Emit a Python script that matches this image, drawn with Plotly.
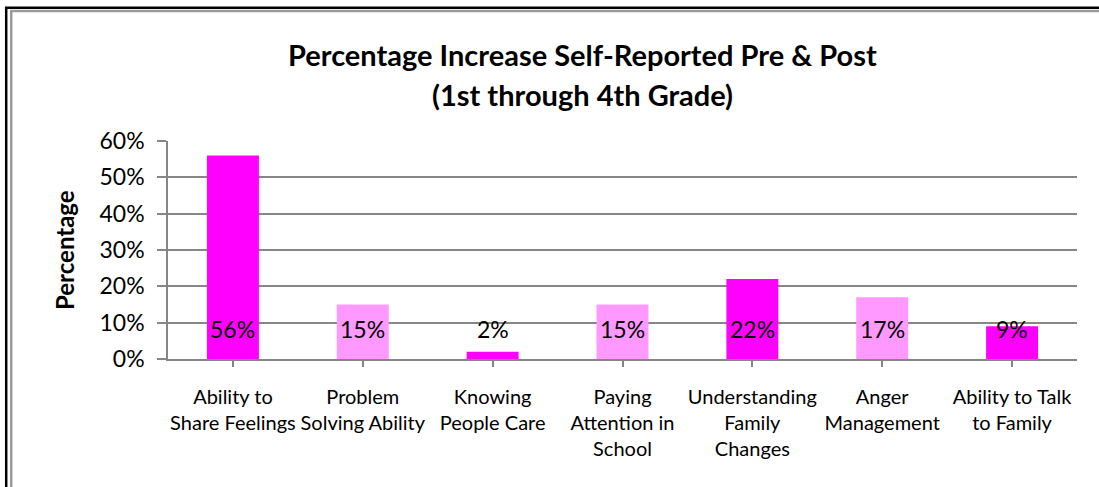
import plotly.graph_objects as go

categories = ["Ability to<br>Share Feelings", "Problem<br>Solving Ability", "Knowing<br>People Care",
              "Paying<br>Attention in<br>School", "Understanding<br>Family<br>Changes", "Anger<br>Management",
              "Ability to Talk<br>to Family"]
values = [0.56, 0.15, 0.02, 0.15, 0.22, 0.17, 0.09]
labels = ["56%", "15%", "2%", "15%", "22%", "17%", "9%"]
colors = ["#FF00FF", "#FF99FF", "#FF00FF", "#FF99FF", "#FF00FF", "#FF99FF", "#FF00FF"]
title_lines = ["Percentage Increase Self-Reported Pre &amp; Post", "(1st through 4th Grade)"]
y_title = "Percentage"

FONT = "Lato"
W, H = 1099, 487
L, R, T, B = 168, 22, 141, 128
pw, ph = W - L - R, H - T - B

def px(x):
    return (x - L) / pw

def py(y):
    return (H - B - y) / ph

fig = go.Figure()
fig.add_trace(go.Bar(x=list(range(len(values))), y=values, marker=dict(color=colors, line=dict(width=0)),
                     width=0.4, hoverinfo="skip"))

for i, (v, t) in enumerate(zip(values, labels)):
    fig.add_annotation(x=i, y=0, xref="x", yref="y", text=t, showarrow=False,
                       yanchor="bottom", yshift=14, font=dict(family=FONT, size=23, color="black"))

# title lines
for yc, t in zip([55, 94], title_lines):
    fig.add_annotation(x=px(582), y=py(yc), xref="paper", yref="paper", text="<b>" + t + "</b>",
                       showarrow=False, xanchor="center", yanchor="middle",
                       font=dict(family=FONT, size=29, color="black"))

# y axis title
fig.add_annotation(x=px(64), y=py(250), xref="paper", yref="paper", text="<b>" + y_title + "</b>",
                   showarrow=False, textangle=-90, xanchor="center", yanchor="middle",
                   font=dict(family=FONT, size=24, color="black"))

fig.update_layout(
    width=W, height=H,
    margin=dict(l=L, r=R, t=T, b=B),
    paper_bgcolor="white", plot_bgcolor="white",
    showlegend=False, bargap=0.6,
    font=dict(family=FONT, color="black"),
)

fig.update_xaxes(
    tickmode="array", tickvals=list(range(len(values))), ticktext=categories,
    range=[-0.5, len(values) - 0.5],
    showline=True, linecolor="#868686", linewidth=1.5,
    ticks="outside", ticklen=6, tickcolor="#868686", tickwidth=1.5,
    tickson="boundaries", showgrid=False, ticklabelstandoff=13,
    tickfont=dict(family=FONT, size=20, color="black"), tickangle=0,
)
fig.update_yaxes(
    range=[0, 0.6], dtick=0.1, tickformat=".0%",
    showline=True, linecolor="#868686", linewidth=1.5,
    ticks="outside", ticklen=9, tickcolor="#868686", tickwidth=1.5,
    showgrid=True, gridcolor="#868686", gridwidth=1.5, zeroline=False,
    tickfont=dict(family=FONT, size=23, color="black"), ticklabelstandoff=8,
)

# chart border (outer black, inner gray)
fig.add_shape(type="rect", xref="paper", yref="paper", x0=px(6.2), x1=px(1120), y0=py(520), y1=py(7.8),
              line=dict(color="black", width=2.5), fillcolor="rgba(0,0,0,0)", layer="above")
fig.add_shape(type="rect", xref="paper", yref="paper", x0=px(11.2), x1=px(1115), y0=py(515), y1=py(11),
              line=dict(color="#9a9a9a", width=2.5), fillcolor="rgba(0,0,0,0)", layer="above")

fig.write_html("out.html", config={"displayModeBar": False},
               post_script="document.body.style.margin='0px';")
